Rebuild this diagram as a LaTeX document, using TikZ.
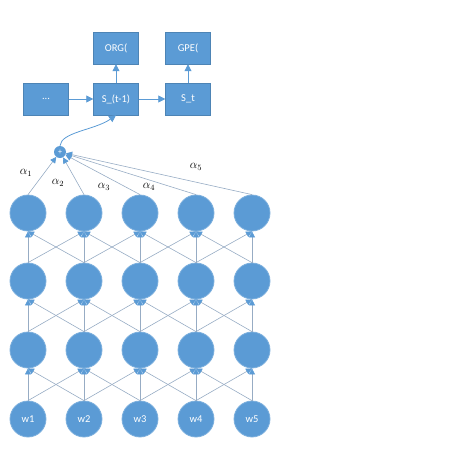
\documentclass[tikz,border=0pt]{standalone}
\usepackage{fontspec}
\setmainfont{Carlito}
\usetikzlibrary{arrows.meta}
\definecolor{nblue}{HTML}{5B9BD5}
\definecolor{lgrey}{HTML}{97ACC4}
\begin{document}
\begin{tikzpicture}[x=1pt,y=-1pt,
  box/.style={draw=nblue!85!black,line width=0.4pt,fill=nblue,minimum width=45pt,minimum height=32pt,inner sep=0pt,text=white,font=\fontsize{10.5}{12}\selectfont},
  neuron/.style={circle,fill=nblue,draw=nblue!80,line width=0.8pt,minimum size=36pt,inner sep=0pt,text=white,font=\fontsize{10.5}{12}\selectfont},
  plusnode/.style={circle,fill=nblue,minimum size=12pt,inner sep=0pt,text=white,font=\fontsize{8}{8}\selectfont},
  link/.style={draw=lgrey,line width=0.6pt,-{Triangle[length=6pt,width=6pt,fill=nblue,color=nblue]}},
  flow/.style={draw=nblue,line width=0.8pt,-{Triangle[length=7pt,width=7pt]}},
  alab/.style={font=\fontsize{12}{12}\selectfont,inner sep=0pt}
]
\useasboundingbox (0,0) rectangle (474,474);
% boxes
\node[box] (dots) at (46,99) {...};
\node[box] (sprev) at (116,99) {S\_(t-1)};
\node[box] (st) at (188,99) {S\_t};
\node[box] (org) at (116,48) {ORG(};
\node[box] (gpe) at (188,48) {GPE(};
\draw[flow] (dots) -- (sprev);
\draw[flow] (sprev) -- (st);
\draw[flow] (sprev) -- (org);
\draw[flow] (st) -- (gpe);
% plus
\node[plusnode] (plus) at (60,152) {+};
\draw[flow] (plus.north) .. controls (61,132) and (95,130) .. (sprev.south);
% neurons
\foreach \i/\x in {1/28,2/84,3/140,4/196,5/252}{
  \node[neuron] (a\i) at (\x,213) {};
  \node[neuron] (b\i) at (\x,281) {};
  \node[neuron] (c\i) at (\x,350) {};
  \node[neuron] (w\i) at (\x,419) {w\i};
}
% connections between layers
\foreach \lo/\hi in {w/c,c/b,b/a}{
  \foreach \i in {1,...,5}{
    \draw[link] (\lo\i.north) -- (\hi\i.south);
  }
  \foreach \i/\j in {1/2,2/3,3/4,4/5}{
    \draw[link] (\lo\i.north) -- (\hi\j.south);
    \draw[link] (\lo\j.north) -- (\hi\i.south);
  }
}
% attention
\foreach \i in {1,...,5}{
  \draw[link] (a\i.north) -- (plus);
}
\node[alab] (l1) at (26,173) {$\alpha_1$};
\node[alab] (l2) at (58,183) {$\alpha_2$};
\node[alab] (l3) at (104,187) {$\alpha_3$};
\node[alab] (l4) at (149,187) {$\alpha_4$};
\node[alab] (l5) at (196,167) {$\alpha_5$};
\end{tikzpicture}
\end{document}
